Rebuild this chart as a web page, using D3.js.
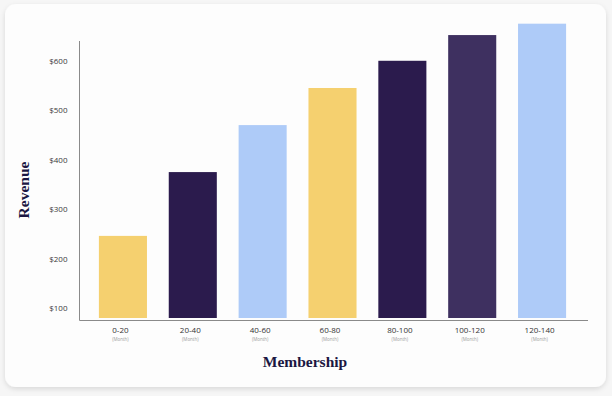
<!DOCTYPE html>
<html>
<head>
<meta charset="utf-8">
<script src="https://cdn.jsdelivr.net/npm/d3@7"></script>
<style>
  html, body { margin: 0; padding: 0; background: #f6f6f6; }
  svg { display: block; }
</style>
</head>
<body>
<svg id="chart" width="612" height="396"></svg>
<script>
// data
var categories = ["0-20", "20-40", "40-60", "60-80", "80-100", "100-120", "120-140"];
var revenue = [246, 375, 470, 545, 600, 652, 675];
var barColors = ["#f5d06f", "#2b1b4d", "#aecbf8", "#f5d06f", "#2b1b4d", "#3e3060", "#aecbf8"];
var yTicks = [100, 200, 300, 400, 500, 600];

var svg = d3.select("#chart");

/* card with soft shadow */
var defs = svg.append("defs");
var f = defs.append("filter").attr("id", "shadow")
  .attr("x", "-5%").attr("y", "-5%").attr("width", "110%").attr("height", "115%");
f.append("feDropShadow").attr("dx", 0).attr("dy", 2).attr("stdDeviation", 2.5)
  .attr("flood-color", "#000").attr("flood-opacity", 0.12);

svg.append("rect")
  .attr("x", 5).attr("y", 4).attr("width", 601).attr("height", 383)
  .attr("rx", 11)
  .attr("fill", "#fdfdfd")
  .attr("filter", "url(#shadow)");

var x = d3.scaleBand()
  .domain(categories)
  .range([88, 577])
  .paddingInner(0.312)
  .paddingOuter(0.156);

var y = d3.scaleLinear()
  .domain([80, 640])
  .range([318, 41]);

//bars
svg.append("g").selectAll("rect")
  .data(categories)
  .enter()
  .append("rect")
    .attr("x", function(d) { return x(d); })
    .attr("y", function(d, i) { return y(revenue[i]); })
    .attr("width", x.bandwidth())
    .attr("height", function(d, i) { return y(80) - y(revenue[i]); })
    .attr("fill", function(d, i) { return barColors[i]; });

// axis lines
var axisX0 = 79.5, axisY0 = 320.5;
svg.append("line")
  .attr("x1", axisX0).attr("x2", axisX0)
  .attr("y1", y(640)).attr("y2", axisY0)
  .attr("stroke", "#8a8a8a").attr("stroke-width", 1);
svg.append("line")
  .attr("x1", axisX0).attr("x2", 588)
  .attr("y1", axisY0).attr("y2", axisY0)
  .attr("stroke", "#8a8a8a").attr("stroke-width", 1);

// y axis labels
var yAxis = svg.append("g")
  .attr("transform", "translate(" + axisX0 + ",0)")
  .call(d3.axisLeft(y).tickValues(yTicks).tickSize(0).tickPadding(12)
    .tickFormat(function(d) { return "$" + d; }));
yAxis.select(".domain").remove();
yAxis.selectAll("text")
  .attr("font-family", "'Open Sans', sans-serif")
  .attr("font-size", 8)
  .attr("fill", "#3a3a3a");

// x axis labels
var xLabels = svg.append("g").selectAll("g")
  .data(categories)
  .enter()
  .append("g")
  .attr("transform", function(d) { return "translate(" + (x(d) + x.bandwidth() / 2 - 2.5) + ",0)"; });

xLabels.append("text")
  .attr("y", 333)
  .attr("text-anchor", "middle")
  .attr("font-family", "'Open Sans', sans-serif")
  .attr("font-size", 8)
  .attr("fill", "#333")
  .text(function(d) { return d; });

xLabels.append("text")
  .attr("y", 340.5)
  .attr("text-anchor", "middle")
  .attr("font-family", "'Open Sans', sans-serif")
  .attr("font-size", 4.5)
  .attr("fill", "#9a9a9a")
  .text("(Month)");

// axis titles
svg.append("text")
  .attr("x", 305).attr("y", 367)
  .attr("text-anchor", "middle")
  .attr("font-family", "'Liberation Serif', serif")
  .attr("font-weight", "bold")
  .attr("font-size", 15.5)
  .attr("fill", "#1b1742")
  .text("Membership");

svg.append("text")
  .attr("transform", "translate(29,190) rotate(-90)")
  .attr("text-anchor", "middle")
  .attr("font-family", "'Liberation Serif', serif")
  .attr("font-weight", "bold")
  .attr("font-size", 15.5)
  .attr("fill", "#1b1742")
  .text("Revenue");
</script>
</body>
</html>
